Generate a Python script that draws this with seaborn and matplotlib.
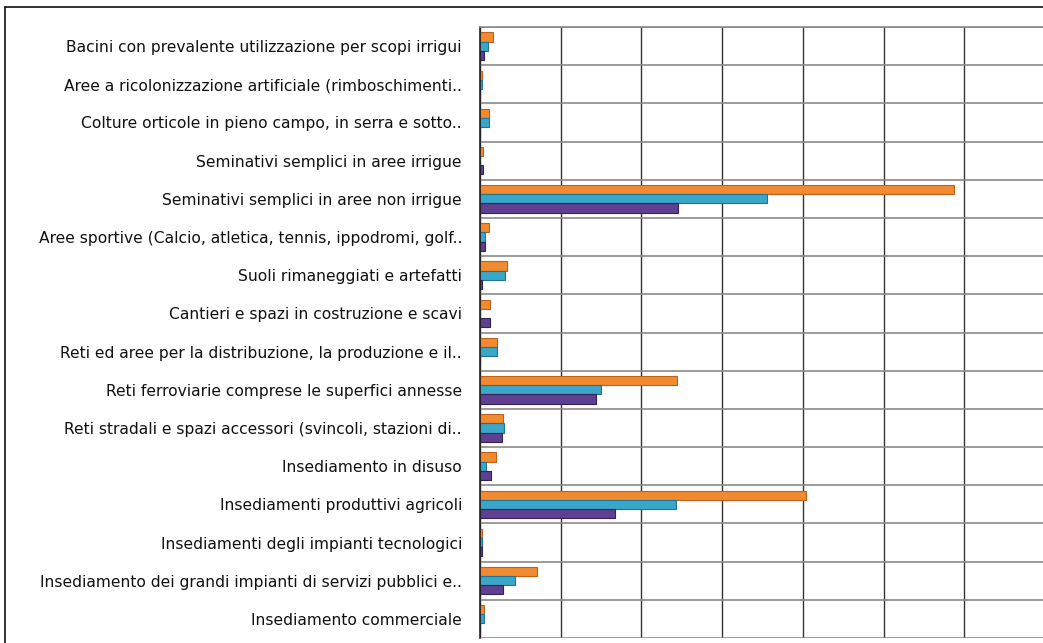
import seaborn as sns
import pandas as pd
import matplotlib.pyplot as plt
from matplotlib.lines import Line2D

categories = [
    'Bacini con prevalente utilizzazione per scopi irrigui',
    'Aree a ricolonizzazione artificiale (rimboschimenti..',
    'Colture orticole in pieno campo, in serra e sotto..',
    'Seminativi semplici in aree irrigue',
    'Seminativi semplici in aree non irrigue',
    'Aree sportive (Calcio, atletica, tennis, ippodromi, golf..',
    'Suoli rimaneggiati e artefatti',
    'Cantieri e spazi in costruzione e scavi',
    'Reti ed aree per la distribuzione, la produzione e il..',
    'Reti ferroviarie comprese le superfici annesse',
    'Reti stradali e spazi accessori (svincoli, stazioni di..',
    'Insediamento in disuso',
    'Insediamenti produttivi agricoli',
    'Insediamenti degli impianti tecnologici',
    'Insediamento dei grandi impianti di servizi pubblici e..',
    'Insediamento commerciale',
]
series_names = ['Serie 1', 'Serie 2', 'Serie 3']
orange_vals = [0.16, 0.03, 0.11, 0.04, 5.87, 0.11, 0.34, 0.13, 0.21, 2.44, 0.29, 0.20, 4.04, 0.02, 0.71, 0.05]
teal_vals = [0.10, 0.03, 0.11, 0.00, 3.56, 0.06, 0.31, 0.00, 0.21, 1.50, 0.30, 0.07, 2.43, 0.02, 0.43, 0.05]
purple_vals = [0.05, 0.00, 0.00, 0.04, 2.45, 0.06, 0.03, 0.13, 0.00, 1.44, 0.27, 0.14, 1.67, 0.02, 0.28, 0.00]

rows = []
for name, vals in zip(series_names, [orange_vals, teal_vals, purple_vals]):
    for cat, v in zip(categories, vals):
        rows.append({'categoria': cat, 'serie': name, 'valore': v})
df = pd.DataFrame(rows)

colors = ['#F28A30', '#3AA6C8', '#5E3F90']
edges = ['#C0601A', '#1E7496', '#35215E']

sns.set_theme(style='white')
fig = plt.figure(figsize=(10.43, 6.43), dpi=100)
ax = fig.add_axes([480 / 1043, 1 - 638 / 643, 1 - 480 / 1043, (638 - 27) / 643])

sns.barplot(data=df, x='valore', y='categoria', hue='serie', order=categories,
            hue_order=series_names, palette=colors, orient='h', width=0.72,
            saturation=1, dodge=True, ax=ax, legend=False)

for i, cont in enumerate(ax.containers):
    for bar in cont:
        bar.set_edgecolor(edges[i])
        bar.set_linewidth(0.8)

ax.set_xlim(0, (1043 - 480) / 80.7)
ax.set_ylim(len(categories) - 0.5, -0.5)
ax.set_xticks(range(0, 7))
ax.set_xticklabels([])
ax.set_yticks(range(len(categories)))
ax.set_yticklabels(categories, fontsize=11.2, color='#111111')
ax.set_yticks([k - 0.5 for k in range(len(categories) + 1)], minor=True)
ax.tick_params(axis='y', which='major', length=0, pad=13)
ax.tick_params(axis='y', which='minor', length=7, color='#888888', width=1.2)
ax.tick_params(axis='x', length=0)
ax.grid(axis='x', which='major', color='#333333', linewidth=1.0)
ax.grid(axis='y', which='minor', color='#8a8a8a', linewidth=1.2)
ax.grid(axis='y', which='major', visible=False)
ax.set_axisbelow(True)
ax.set_xlabel('')
ax.set_ylabel('')
for s in ['right', 'bottom']:
    ax.spines[s].set_visible(False)
ax.spines['top'].set_color('#8a8a8a')
ax.spines['top'].set_linewidth(1.2)
ax.spines['left'].set_color('#222222')
ax.spines['left'].set_linewidth(1.2)

# chart area border
fig.add_artist(Line2D([5 / 1043, 5 / 1043], [0, 1 - 7 / 643], color='#111111', linewidth=1.2))
fig.add_artist(Line2D([5 / 1043, 1], [1 - 7 / 643, 1 - 7 / 643], color='#111111', linewidth=1.2))

fig.savefig('out.png', dpi=100)
